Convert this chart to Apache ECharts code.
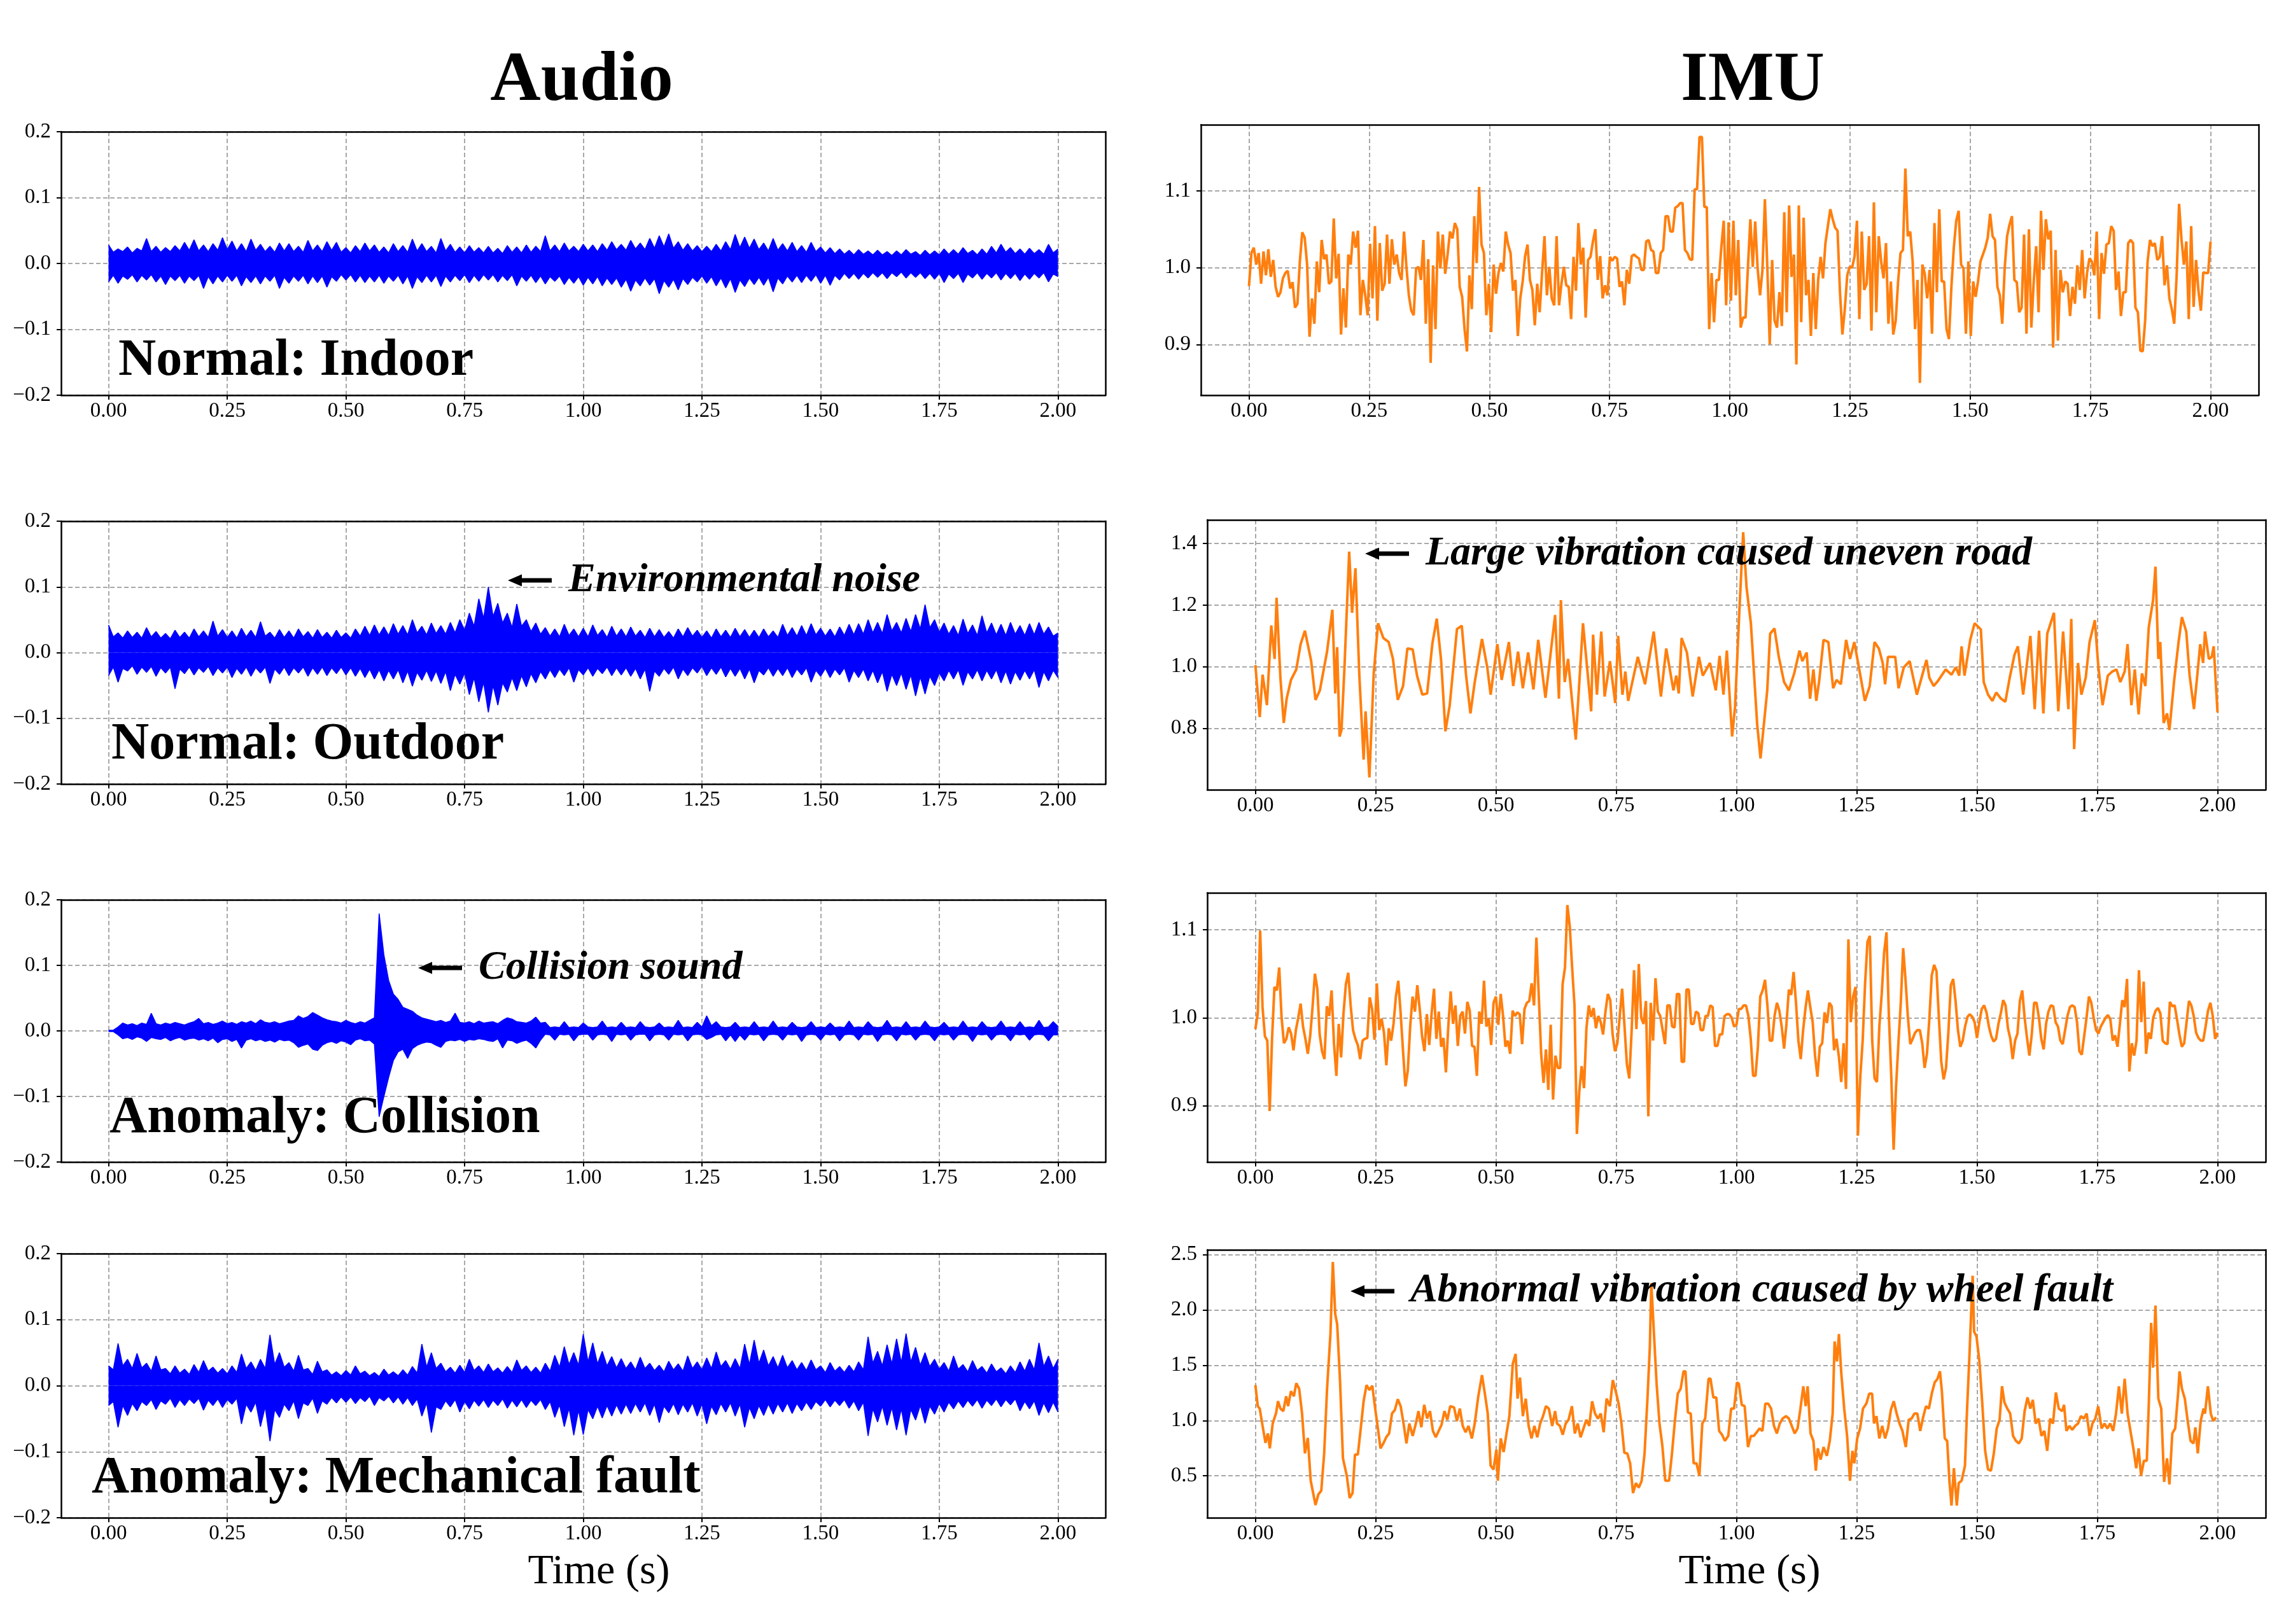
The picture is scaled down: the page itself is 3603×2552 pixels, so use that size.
<!DOCTYPE html>
<html>
<head>
<meta charset="UTF-8">
<title>Audio and IMU signals</title>
<script src="https://cdn.jsdelivr.net/npm/echarts@6/dist/echarts.min.js"></script>
<style>
  html, body { margin: 0; padding: 0; background: #fff; }
  #chart { width: 3603px; height: 2552px; }
</style>
</head>
<body>
<div id="chart"></div>
<script>
// tick values
const timeTicks = [0, 0.25, 0.5, 0.75, 1, 1.25, 1.5, 1.75, 2];
const audioTicks = [-0.2, -0.1, 0, 0.1, 0.2];
const imuTicks = [[0.9, 1.0, 1.1], [0.8, 1.0, 1.2, 1.4], [0.9, 1.0, 1.1], [0.5, 1.0, 1.5, 2.0, 2.5]];

const panelLabels = ['Normal: Indoor', 'Normal: Outdoor', 'Anomaly: Collision', 'Anomaly: Mechanical fault'];

// audio envelopes (upper / lower), evenly spaced over 0..2 s (0.01 s)
const audio1Up = [.028,.017,.022,.018,.025,.016,.023,.019,.038,.018,.026,.017,.024,.018,.027,.019,.032,.020,.036,.019,
  .028,.018,.030,.020,.039,.021,.034,.019,.030,.018,.037,.020,.029,.018,.026,.017,.031,.019,.030,.018,
  .026,.017,.035,.019,.028,.018,.033,.020,.032,.017,.024,.016,.027,.018,.031,.019,.028,.017,.025,.016,
  .030,.018,.027,.017,.037,.019,.030,.018,.026,.016,.038,.019,.029,.017,.025,.016,.027,.017,.024,.016,
  .026,.016,.023,.015,.027,.017,.025,.016,.028,.017,.026,.018,.042,.019,.028,.018,.031,.019,.026,.018,
  .029,.019,.028,.018,.030,.020,.033,.021,.029,.020,.035,.022,.031,.021,.038,.023,.042,.025,.045,.023,
  .033,.020,.030,.019,.027,.018,.026,.018,.029,.019,.033,.021,.044,.024,.040,.023,.037,.021,.031,.019,
  .038,.020,.030,.019,.032,.018,.027,.017,.032,.018,.025,.016,.024,.015,.022,.014,.020,.013,.021,.014,
  .019,.013,.020,.013,.018,.012,.019,.013,.021,.014,.018,.012,.020,.013,.019,.013,.022,.014,.021,.014,
  .024,.015,.020,.013,.022,.014,.026,.016,.029,.017,.024,.015,.022,.014,.023,.015,.021,.014,.029,.016,.022];
const audio1Lo = [-.028,-.018,-.030,-.019,-.024,-.017,-.028,-.018,-.025,-.017,-.028,-.019,-.032,-.019,-.026,-.018,-.030,-.019,-.026,-.018,
  -.038,-.020,-.031,-.019,-.028,-.018,-.027,-.018,-.034,-.020,-.029,-.019,-.031,-.019,-.027,-.018,-.038,-.021,-.030,-.019,
  -.027,-.018,-.031,-.019,-.029,-.019,-.036,-.020,-.027,-.017,-.025,-.017,-.028,-.018,-.029,-.019,-.028,-.018,-.030,-.019,
  -.027,-.018,-.031,-.019,-.038,-.020,-.029,-.018,-.028,-.018,-.035,-.019,-.028,-.018,-.026,-.017,-.029,-.018,-.027,-.017,
  -.025,-.017,-.028,-.018,-.026,-.017,-.034,-.019,-.027,-.018,-.029,-.019,-.031,-.020,-.027,-.019,-.032,-.021,-.030,-.020,
  -.033,-.021,-.031,-.020,-.034,-.022,-.032,-.022,-.036,-.024,-.042,-.025,-.034,-.022,-.033,-.023,-.046,-.026,-.036,-.024,
  -.040,-.023,-.032,-.021,-.028,-.019,-.030,-.020,-.034,-.022,-.037,-.023,-.044,-.025,-.035,-.022,-.032,-.021,-.033,-.021,
  -.043,-.022,-.031,-.019,-.028,-.018,-.029,-.018,-.027,-.017,-.030,-.018,-.033,-.018,-.025,-.015,-.023,-.015,-.024,-.015,
  -.022,-.014,-.021,-.014,-.023,-.014,-.020,-.013,-.022,-.014,-.021,-.014,-.023,-.015,-.024,-.015,-.029,-.016,-.023,-.015,
  -.029,-.016,-.022,-.014,-.024,-.015,-.022,-.014,-.025,-.015,-.023,-.015,-.026,-.016,-.024,-.015,-.022,-.014,-.028,-.016,-.020];

const audio2Up = [.042,.024,.030,.022,.033,.023,.031,.022,.038,.024,.032,.022,.029,.021,.034,.023,.031,.022,.036,.024,
  .033,.023,.048,.025,.035,.023,.033,.022,.037,.024,.034,.023,.047,.025,.031,.022,.035,.023,.033,.022,
  .036,.024,.032,.022,.035,.023,.031,.022,.034,.023,.030,.022,.036,.025,.040,.026,.042,.027,.039,.026,
  .044,.028,.041,.027,.050,.030,.040,.027,.045,.029,.041,.028,.046,.030,.050,.034,.060,.040,.082,.052,
  .100,.055,.075,.045,.060,.038,.074,.040,.050,.032,.045,.028,.038,.025,.036,.024,.043,.026,.036,.024,
  .037,.024,.042,.026,.035,.023,.040,.025,.036,.024,.039,.025,.034,.023,.037,.024,.035,.023,.032,.022,
  .036,.024,.038,.025,.034,.023,.033,.022,.036,.024,.034,.023,.037,.024,.035,.023,.034,.023,.036,.024,
  .033,.023,.043,.026,.038,.025,.041,.026,.044,.027,.037,.025,.036,.024,.039,.026,.043,.027,.044,.028,
  .050,.030,.046,.029,.058,.033,.046,.030,.052,.032,.058,.036,.073,.038,.050,.031,.045,.028,.041,.026,
  .051,.029,.042,.026,.056,.030,.045,.027,.043,.026,.046,.028,.041,.026,.044,.027,.046,.028,.039,.025,.030];
const audio2Lo = [-.035,-.022,-.045,-.024,-.028,-.020,-.033,-.022,-.030,-.021,-.036,-.023,-.031,-.022,-.055,-.025,-.032,-.022,-.034,-.023,
  -.030,-.021,-.035,-.023,-.031,-.022,-.038,-.024,-.033,-.022,-.036,-.023,-.031,-.022,-.047,-.025,-.033,-.022,-.035,-.023,
  -.031,-.022,-.036,-.023,-.033,-.022,-.035,-.023,-.032,-.022,-.034,-.023,-.036,-.024,-.038,-.025,-.040,-.026,-.043,-.027,
  -.040,-.026,-.046,-.028,-.051,-.030,-.042,-.027,-.044,-.028,-.047,-.029,-.058,-.033,-.048,-.031,-.064,-.038,-.075,-.045,
  -.091,-.050,-.080,-.046,-.060,-.038,-.058,-.035,-.052,-.032,-.046,-.029,-.040,-.026,-.038,-.025,-.035,-.023,-.045,-.026,
  -.034,-.023,-.036,-.024,-.032,-.022,-.035,-.023,-.034,-.023,-.036,-.024,-.040,-.025,-.059,-.028,-.036,-.024,-.033,-.022,
  -.040,-.025,-.035,-.023,-.031,-.021,-.035,-.023,-.033,-.022,-.037,-.024,-.036,-.024,-.040,-.025,-.046,-.027,-.034,-.023,
  -.036,-.024,-.035,-.023,-.038,-.025,-.034,-.023,-.045,-.027,-.036,-.024,-.038,-.025,-.034,-.023,-.045,-.027,-.038,-.025,
  -.043,-.027,-.046,-.029,-.059,-.033,-.050,-.031,-.056,-.034,-.066,-.037,-.063,-.036,-.050,-.031,-.043,-.027,-.040,-.026,
  -.050,-.029,-.040,-.026,-.043,-.027,-.040,-.026,-.046,-.028,-.048,-.029,-.042,-.027,-.040,-.026,-.053,-.029,-.043,-.027,-.038];

const audio3Up = [.001,.001,.006,.012,.009,.011,.008,.012,.010,.027,.011,.009,.012,.010,.013,.011,.009,.012,.014,.019,
  .011,.013,.010,.012,.015,.011,.013,.010,.014,.012,.015,.011,.017,.013,.012,.014,.011,.013,.015,.016,
  .023,.019,.022,.028,.024,.020,.017,.015,.014,.012,.016,.013,.011,.014,.012,.016,.020,.179,.116,.077,
  .056,.048,.036,.033,.030,.024,.020,.018,.016,.014,.016,.013,.015,.027,.013,.012,.014,.011,.015,.012,
  .013,.014,.011,.016,.020,.018,.014,.013,.012,.015,.021,.012,.013,.005,.006,.005,.014,.005,.006,.005,
  .012,.006,.005,.006,.015,.005,.006,.005,.013,.005,.006,.005,.014,.006,.005,.006,.012,.005,.006,.005,
  .016,.005,.006,.005,.013,.006,.023,.008,.014,.006,.005,.006,.013,.005,.006,.005,.014,.005,.006,.005,
  .015,.005,.006,.005,.013,.006,.005,.006,.014,.005,.006,.005,.012,.005,.006,.005,.015,.005,.006,.005,
  .014,.006,.005,.006,.016,.005,.006,.005,.014,.005,.006,.005,.015,.006,.005,.006,.013,.005,.006,.005,
  .015,.005,.006,.005,.014,.006,.005,.006,.015,.005,.006,.005,.014,.005,.006,.005,.016,.005,.006,.014,.007];
const audio3Lo = [-.001,-.001,-.006,-.012,-.010,-.013,-.009,-.011,-.016,-.010,-.012,-.013,-.010,-.015,-.012,-.010,-.014,-.012,-.011,-.014,
  -.012,-.015,-.011,-.018,-.013,-.012,-.016,-.013,-.026,-.014,-.012,-.015,-.013,-.016,-.014,-.017,-.013,-.015,-.014,-.018,
  -.025,-.022,-.020,-.028,-.030,-.022,-.018,-.016,-.019,-.015,-.017,-.021,-.014,-.012,-.015,-.014,-.020,-.131,-.100,-.071,
  -.045,-.032,-.028,-.042,-.027,-.022,-.019,-.017,-.018,-.022,-.025,-.016,-.014,-.015,-.013,-.016,-.013,-.014,-.012,-.013,
  -.015,-.016,-.012,-.026,-.014,-.015,-.019,-.016,-.014,-.019,-.026,-.014,-.005,-.006,-.014,-.005,-.006,-.005,-.015,-.006,
  -.005,-.005,-.014,-.006,-.005,-.006,-.016,-.005,-.006,-.005,-.014,-.006,-.005,-.005,-.015,-.006,-.005,-.006,-.014,-.005,
  -.006,-.005,-.015,-.006,-.005,-.006,-.013,-.010,-.006,-.005,-.015,-.006,-.016,-.006,-.014,-.005,-.006,-.005,-.015,-.006,
  -.005,-.006,-.014,-.005,-.006,-.005,-.016,-.006,-.005,-.006,-.014,-.005,-.006,-.005,-.015,-.006,-.005,-.006,-.014,-.005,
  -.006,-.005,-.016,-.006,-.005,-.006,-.015,-.005,-.006,-.005,-.014,-.006,-.005,-.006,-.015,-.005,-.006,-.005,-.014,-.006,
  -.005,-.006,-.016,-.005,-.006,-.005,-.014,-.006,-.005,-.006,-.015,-.005,-.006,-.005,-.014,-.006,-.005,-.006,-.015,-.006,-.006];

const audio4Up = [.030,.024,.064,.030,.040,.026,.049,.027,.034,.022,.045,.024,.026,.018,.030,.019,.025,.017,.032,.020,
  .038,.022,.028,.019,.026,.018,.030,.020,.048,.026,.036,.023,.040,.026,.077,.032,.050,.028,.035,.022,
  .046,.024,.026,.017,.037,.021,.024,.016,.021,.015,.023,.016,.030,.018,.022,.015,.020,.014,.025,.016,
  .021,.015,.024,.016,.029,.019,.063,.028,.050,.026,.034,.021,.028,.019,.031,.020,.040,.023,.030,.020,
  .033,.021,.027,.019,.029,.020,.039,.023,.030,.020,.028,.019,.034,.022,.046,.028,.059,.032,.050,.031,
  .078,.036,.065,.033,.052,.030,.044,.027,.041,.026,.036,.024,.043,.026,.034,.023,.031,.021,.037,.024,
  .033,.022,.045,.026,.036,.024,.042,.026,.051,.029,.038,.025,.041,.026,.063,.032,.069,.034,.054,.030,
  .044,.027,.046,.027,.038,.024,.035,.023,.039,.024,.030,.020,.035,.022,.029,.020,.031,.021,.036,.024,
  .074,.034,.052,.030,.062,.033,.071,.035,.079,.036,.058,.031,.050,.029,.040,.025,.035,.022,.045,.025,
  .032,.021,.038,.023,.029,.019,.033,.021,.027,.018,.030,.020,.036,.022,.040,.024,.065,.029,.045,.026,.040];
const audio4Lo = [-.030,-.024,-.063,-.030,-.045,-.027,-.038,-.024,-.030,-.021,-.036,-.023,-.028,-.019,-.033,-.021,-.030,-.020,-.027,-.019,
  -.037,-.022,-.030,-.020,-.033,-.021,-.028,-.019,-.058,-.028,-.040,-.025,-.062,-.032,-.084,-.036,-.048,-.028,-.038,-.023,
  -.050,-.026,-.030,-.019,-.042,-.023,-.028,-.018,-.026,-.017,-.025,-.017,-.027,-.018,-.024,-.016,-.030,-.018,-.023,-.016,
  -.026,-.017,-.028,-.018,-.030,-.020,-.046,-.026,-.071,-.032,-.036,-.023,-.032,-.021,-.040,-.024,-.035,-.022,-.031,-.021,
  -.033,-.022,-.030,-.020,-.034,-.022,-.032,-.021,-.033,-.022,-.030,-.021,-.036,-.024,-.048,-.029,-.062,-.034,-.075,-.037,
  -.074,-.036,-.050,-.031,-.049,-.030,-.046,-.029,-.043,-.028,-.042,-.027,-.040,-.026,-.045,-.028,-.056,-.031,-.041,-.027,
  -.044,-.028,-.040,-.026,-.046,-.028,-.058,-.031,-.044,-.027,-.040,-.026,-.046,-.028,-.063,-.033,-.050,-.030,-.045,-.028,
  -.043,-.027,-.040,-.026,-.042,-.027,-.038,-.025,-.036,-.024,-.031,-.021,-.032,-.022,-.030,-.021,-.034,-.023,-.038,-.025,
  -.076,-.035,-.055,-.031,-.060,-.033,-.067,-.035,-.075,-.036,-.052,-.030,-.057,-.031,-.043,-.027,-.040,-.025,-.035,-.023,
  -.033,-.022,-.031,-.021,-.034,-.022,-.030,-.020,-.032,-.021,-.029,-.020,-.038,-.024,-.035,-.023,-.045,-.026,-.041,-.025,-.040];

// IMU acceleration
const imu1 = [0.976,1.019,1.026,1.004,1.019,0.979,1.021,0.990,1.024,0.988,1.010,0.975,0.962,0.968,0.986,0.993,0.996,0.973,0.981,0.948,
  0.953,1.008,1.046,1.039,1.004,0.910,0.960,0.927,1.008,0.968,1.036,1.011,1.017,0.979,0.982,1.064,0.986,1.018,0.913,0.973,
  0.922,1.017,1.004,1.047,1.026,1.048,0.938,0.984,0.964,0.938,1.031,0.960,1.054,0.931,1.032,0.970,0.979,1.043,0.979,1.037,
  1.004,1.017,0.993,0.984,1.047,1.001,0.964,0.944,0.938,0.999,1.001,0.984,1.036,0.927,1.011,0.876,1.003,0.920,1.047,0.999,
  1.043,0.992,1.017,1.047,1.038,1.058,1.050,0.975,0.962,0.920,0.891,0.990,0.946,1.067,1.006,1.105,1.030,1.019,0.938,0.979,
  0.916,1.004,0.966,0.993,1.006,0.995,1.047,1.030,1.019,0.970,0.984,0.911,0.960,0.982,1.015,1.030,0.984,0.971,0.925,0.979,
  0.942,0.993,1.041,0.964,1.001,0.960,0.951,1.041,0.951,0.979,1.001,0.977,0.975,0.933,1.014,0.970,1.058,1.004,1.026,0.935,
  1.010,1.014,1.034,1.050,0.984,1.015,0.960,0.977,0.964,1.014,1.009,1.014,1.012,0.975,0.982,0.951,0.997,0.979,1.015,1.017,
  1.014,1.012,0.997,0.997,1.034,1.036,1.023,1.021,0.993,0.993,1.019,1.023,1.067,1.067,1.047,1.047,1.078,1.080,1.084,1.084,
  1.023,1.019,1.011,1.010,1.102,1.102,1.170,1.170,1.079,1.079,0.920,0.993,0.929,0.984,0.984,1.026,1.061,0.951,1.059,0.957,
  1.061,0.964,1.036,0.922,0.935,0.935,1.001,1.063,1.001,1.060,0.999,0.964,0.997,1.089,1.001,0.900,1.010,0.931,0.922,0.968,
  0.924,1.072,0.942,1.081,0.988,1.017,0.874,1.081,0.929,1.065,0.964,0.984,0.911,0.993,0.920,0.984,1.014,0.986,1.032,1.054,
  1.076,1.063,1.052,1.048,0.968,0.913,0.946,0.990,1.001,1.000,1.014,1.061,0.933,1.047,0.971,0.979,1.041,0.918,1.085,0.942,
  1.041,1.008,0.986,1.032,0.927,0.982,0.913,0.931,0.982,1.019,1.023,1.129,1.041,1.047,1.008,0.920,0.984,0.850,1.004,0.992,
  0.960,0.997,0.914,1.058,0.968,1.076,0.982,0.982,0.920,0.907,0.975,1.026,1.061,1.074,1.004,0.999,0.914,1.008,0.911,0.982,
  0.962,0.982,1.008,1.017,1.026,1.039,1.070,1.041,1.036,0.975,0.964,0.927,0.999,1.041,1.056,1.067,0.984,0.981,0.942,0.948,
  1.043,0.914,1.050,0.922,0.982,1.028,0.942,1.074,0.997,1.063,1.037,1.048,0.896,1.023,0.905,0.997,0.968,0.982,0.979,0.937,
  0.975,0.953,1.003,0.971,1.023,0.960,0.993,1.012,1.008,0.990,1.047,0.933,1.019,0.992,1.030,1.032,1.054,1.048,0.971,0.995,
  0.937,0.968,0.968,1.032,1.036,1.032,0.948,0.942,0.892,0.891,0.931,1.008,1.036,1.028,1.032,1.010,1.014,1.041,0.977,1.003,
  0.960,0.946,0.927,0.990,1.083,1.037,1.004,1.034,0.933,1.054,0.949,1.010,0.970,0.944,0.994,0.993,0.993,1.034];

const imu2T = [0.000,0.009,0.015,0.024,0.033,0.040,0.044,0.052,0.059,0.065,0.074,0.085,0.094,0.103,0.116,0.125,0.134,0.149,0.160,0.166,
  0.170,0.175,0.179,0.185,0.195,0.201,0.208,0.216,0.225,0.229,0.237,0.246,0.255,0.266,0.277,0.286,0.296,0.307,0.316,0.327,
  0.336,0.347,0.357,0.368,0.377,0.386,0.395,0.404,0.419,0.429,0.438,0.447,0.456,0.471,0.482,0.489,0.503,0.512,0.527,0.536,
  0.546,0.556,0.567,0.578,0.588,0.603,0.623,0.631,0.635,0.643,0.650,0.666,0.681,0.698,0.702,0.710,0.719,0.726,0.737,0.748,
  0.754,0.763,0.769,0.775,0.795,0.810,0.828,0.843,0.854,0.869,0.875,0.880,0.886,0.897,0.909,0.922,0.930,0.945,0.957,0.965,
  0.973,0.980,0.991,0.997,1.006,1.014,1.021,1.030,1.043,1.050,1.064,1.070,1.079,1.088,1.099,1.109,1.120,1.131,1.137,1.146,
  1.153,1.160,1.166,1.172,1.181,1.191,1.201,1.208,1.217,1.228,1.236,1.245,1.267,1.277,1.287,1.296,1.304,1.309,1.315,1.330,
  1.337,1.348,1.360,1.375,1.386,1.395,1.401,1.410,1.419,1.435,1.447,1.456,1.463,1.468,1.474,1.486,1.495,1.508,1.514,1.523,
  1.532,1.540,1.550,1.559,1.568,1.578,1.585,1.596,1.611,1.620,1.629,1.638,1.646,1.660,1.669,1.679,1.690,1.696,1.702,1.710,
  1.717,1.726,1.734,1.745,1.752,1.761,1.772,1.781,1.790,1.798,1.807,1.813,1.821,1.828,1.836,1.843,1.850,1.857,1.866,1.871,
  1.877,1.881,1.888,1.895,1.900,1.910,1.919,1.926,1.935,1.942,1.951,1.957,1.964,1.970,1.974,1.982,1.988,1.992,2.000];
const imu2V = [1.005,0.836,0.974,0.875,1.134,1.025,1.224,0.964,0.817,0.896,0.957,0.991,1.073,1.117,1.018,0.892,0.923,1.049,1.185,0.913,
  1.063,0.773,0.794,0.991,1.374,1.175,1.320,0.974,0.698,0.855,0.640,0.978,1.141,1.093,1.080,1.025,0.892,0.937,1.059,1.056,
  0.971,0.909,0.913,1.076,1.156,1.022,0.790,0.875,1.122,1.133,0.971,0.848,0.950,1.090,0.998,0.909,1.073,0.957,1.080,0.937,
  1.049,0.930,1.046,0.926,1.087,0.899,1.168,0.896,1.216,0.950,1.025,0.763,1.141,0.855,1.104,0.909,1.114,0.903,1.018,0.882,
  1.100,0.909,0.984,0.889,1.032,0.943,1.114,0.903,1.059,0.923,0.971,0.913,1.093,1.046,0.903,1.032,0.971,1.012,0.923,1.035,
  0.909,1.052,0.773,0.868,1.179,1.437,1.257,1.141,0.814,0.702,0.923,1.107,1.124,1.032,0.950,0.923,0.978,1.052,1.018,1.046,
  0.896,0.991,0.889,0.954,1.087,1.080,0.930,0.957,0.943,1.087,1.025,1.080,0.889,0.937,1.080,1.059,1.012,0.943,1.032,1.032,
  0.930,0.998,1.018,0.909,0.971,1.022,0.964,0.937,0.954,0.991,0.974,0.998,0.971,1.066,0.971,1.087,1.141,1.121,0.950,0.909,
  0.889,0.916,0.896,0.886,0.964,1.039,1.066,0.909,1.100,0.862,1.117,0.848,1.107,1.175,0.855,1.114,0.862,1.155,0.732,1.012,
  0.909,0.964,1.080,1.151,1.005,0.875,0.971,0.984,0.991,0.950,0.984,1.073,0.875,0.991,0.845,0.978,0.937,1.127,1.216,1.325,
  1.025,1.080,0.817,0.848,0.794,0.957,1.080,1.161,1.114,0.971,0.862,0.957,1.073,1.012,1.114,1.025,1.032,1.066,0.851];

const imu3 = [0.987,1.005,1.099,1.012,0.979,0.974,0.894,0.976,1.035,1.031,1.057,1.000,0.971,0.976,0.989,0.982,0.963,0.986,1.000,1.016,
  0.990,0.976,0.959,0.979,1.012,1.050,1.033,0.981,0.962,0.953,1.013,1.002,1.031,0.971,0.934,0.993,0.955,1.005,1.038,1.051,
  1.014,0.986,0.976,0.969,0.953,0.974,0.976,0.977,1.023,1.010,0.975,1.039,0.986,0.999,0.983,0.946,0.988,0.974,0.993,1.024,
  1.042,1.005,0.962,0.922,0.940,0.990,1.024,1.007,1.037,1.010,0.979,0.962,1.004,0.969,1.005,1.033,0.976,1.007,0.967,0.977,
  0.938,0.990,1.030,0.993,1.014,0.968,1.002,1.007,0.982,1.018,1.008,0.968,0.967,0.934,1.007,0.993,1.042,0.990,0.999,0.969,
  1.017,1.024,0.992,1.027,1.002,0.967,0.974,0.959,1.008,1.002,1.006,1.004,0.970,1.010,1.017,1.019,1.039,1.014,1.091,1.024,
  0.959,0.926,0.964,0.918,0.992,0.907,0.957,0.943,0.943,1.038,1.057,1.128,1.104,1.057,1.014,0.868,0.916,0.945,0.920,0.988,
  1.014,1.001,1.011,0.988,1.002,0.995,0.981,1.007,1.027,1.020,0.981,0.962,0.971,1.002,1.033,0.990,0.947,0.931,0.986,1.054,
  0.987,1.061,1.000,0.993,1.019,0.888,1.017,0.974,1.045,1.007,1.002,0.986,0.970,1.014,1.014,0.990,0.989,1.027,1.027,0.950,
  0.950,1.032,1.032,0.993,0.993,1.007,1.005,0.986,0.986,1.002,1.002,1.014,1.012,0.968,0.968,0.981,0.981,1.002,1.004,1.004,
  1.000,0.990,0.992,1.010,1.010,1.014,1.014,1.002,0.976,0.934,0.934,0.967,1.024,1.031,1.043,1.014,0.974,0.974,1.002,1.017,
  1.008,0.990,0.965,0.993,1.032,1.026,1.052,1.017,0.974,0.953,0.986,1.011,1.031,1.012,0.995,0.957,0.933,0.967,0.971,1.006,
  0.994,1.017,1.013,0.963,0.976,0.956,0.927,0.971,0.919,1.089,0.995,1.024,1.035,0.866,0.933,0.974,1.038,1.086,1.093,0.974,
  0.931,0.927,0.990,1.027,1.074,1.097,1.002,0.934,0.850,0.921,0.971,1.017,1.079,1.043,1.000,0.970,0.976,0.983,0.986,0.986,
  0.971,0.943,0.959,0.999,1.048,1.060,1.053,1.000,0.950,0.930,0.943,0.984,1.037,1.044,1.019,0.986,0.967,0.974,0.990,1.001,
  1.004,1.001,0.995,0.977,0.995,1.010,1.014,1.006,0.990,0.979,0.973,0.976,0.993,1.005,1.020,1.014,0.988,0.976,0.953,0.974,
  0.982,1.019,1.031,1.000,0.977,0.957,0.981,1.017,1.017,1.000,0.976,0.964,0.993,1.007,1.014,1.013,0.995,0.990,0.974,0.970,
  0.986,1.002,1.012,1.014,1.012,0.995,0.962,0.958,0.979,1.000,1.024,1.017,1.000,0.986,0.982,0.990,0.995,1.000,1.003,0.998,
  0.974,0.980,0.967,0.993,1.020,1.012,1.044,0.939,0.971,0.957,0.974,1.054,0.995,1.041,0.959,0.983,0.976,1.000,1.008,1.011,
  1.005,0.974,0.971,0.970,1.018,1.013,1.014,0.998,0.981,0.967,0.971,0.995,1.019,1.014,1.002,0.983,0.977,0.974,0.974,0.990,
  1.008,1.017,1.002,0.976,0.983];

const imu4T = [0.000,0.005,0.009,0.015,0.021,0.026,0.030,0.036,0.043,0.047,0.052,0.058,0.064,0.068,0.074,0.080,0.085,0.091,0.097,0.103,
  0.109,0.115,0.125,0.131,0.137,0.143,0.149,0.156,0.161,0.166,0.170,0.176,0.182,0.190,0.196,0.202,0.207,0.213,0.219,0.225,
  0.231,0.237,0.243,0.249,0.254,0.260,0.266,0.272,0.278,0.284,0.290,0.296,0.302,0.308,0.314,0.320,0.327,0.333,0.339,0.345,
  0.351,0.357,0.363,0.369,0.375,0.381,0.387,0.393,0.399,0.405,0.413,0.419,0.425,0.431,0.437,0.443,0.450,0.456,0.463,0.471,
  0.477,0.483,0.489,0.495,0.501,0.504,0.510,0.516,0.522,0.528,0.535,0.541,0.545,0.550,0.556,0.562,0.568,0.574,0.580,0.586,
  0.592,0.598,0.604,0.610,0.617,0.623,0.627,0.633,0.639,0.645,0.651,0.658,0.664,0.670,0.676,0.682,0.688,0.694,0.700,0.706,
  0.712,0.718,0.724,0.730,0.737,0.743,0.749,0.755,0.761,0.767,0.773,0.779,0.785,0.791,0.797,0.803,0.809,0.815,0.820,0.823,
  0.828,0.834,0.840,0.846,0.852,0.860,0.866,0.872,0.878,0.884,0.890,0.894,0.899,0.905,0.911,0.917,0.923,0.929,0.935,0.942,
  0.946,0.952,0.958,0.964,0.970,0.976,0.983,0.989,0.995,1.001,1.005,1.011,1.017,1.024,1.030,1.036,1.042,1.048,1.054,1.060,
  1.066,1.072,1.078,1.084,1.090,1.096,1.103,1.109,1.115,1.121,1.127,1.133,1.139,1.144,1.148,1.154,1.160,1.165,1.169,1.175,
  1.181,1.188,1.194,1.200,1.204,1.209,1.213,1.218,1.224,1.230,1.236,1.241,1.245,1.251,1.257,1.263,1.270,1.276,1.282,1.286,
  1.291,1.297,1.303,1.309,1.315,1.321,1.327,1.333,1.339,1.345,1.352,1.358,1.364,1.370,1.376,1.382,1.388,1.394,1.400,1.406,
  1.412,1.418,1.423,1.427,1.433,1.438,1.443,1.447,1.452,1.458,1.462,1.468,1.475,1.479,1.484,1.488,1.491,1.494,1.499,1.505,
  1.511,1.517,1.523,1.529,1.535,1.541,1.547,1.552,1.557,1.563,1.569,1.575,1.581,1.587,1.593,1.599,1.605,1.611,1.616,1.622,
  1.628,1.634,1.640,1.646,1.652,1.658,1.664,1.670,1.677,1.681,1.686,1.692,1.698,1.704,1.710,1.716,1.722,1.728,1.734,1.740,
  1.746,1.752,1.759,1.765,1.771,1.777,1.783,1.789,1.795,1.801,1.807,1.813,1.819,1.825,1.831,1.836,1.841,1.847,1.853,1.857,
  1.862,1.866,1.871,1.877,1.883,1.889,1.895,1.900,1.906,1.912,1.918,1.921,1.926,1.932,1.938,1.944,1.950,1.954,1.959,1.965,
  1.971,1.974,1.980,1.986,1.991,1.997];
const imu4V = [1.321,1.130,1.108,0.951,0.798,0.883,0.748,0.973,1.067,1.175,1.108,1.085,1.220,1.130,1.265,1.220,1.337,1.288,1.063,0.703,
  0.843,0.456,0.236,0.333,0.366,0.703,1.288,1.782,2.434,1.962,1.872,1.355,0.658,0.501,0.299,0.344,0.692,0.692,0.928,1.175,
  1.321,1.276,1.315,1.108,0.951,0.748,0.793,0.849,0.883,1.063,1.097,1.193,1.130,0.973,0.793,0.973,0.861,0.962,1.085,0.939,
  1.142,1.018,1.085,0.906,0.849,0.906,0.962,1.085,1.007,1.130,1.119,0.996,1.108,0.951,0.894,0.951,0.838,0.973,1.209,1.411,
  1.243,1.063,0.591,0.557,0.737,0.456,0.838,0.715,0.883,1.040,1.512,1.602,1.198,1.389,1.040,1.198,0.951,0.838,0.951,0.849,
  0.973,1.040,1.130,1.108,0.951,1.085,0.973,0.951,0.872,0.973,1.007,1.130,0.883,0.973,0.849,0.928,1.007,0.951,1.175,1.063,
  1.018,1.063,0.894,1.198,1.130,1.366,1.265,1.153,0.973,0.708,0.703,0.613,0.344,0.434,0.393,0.456,0.703,1.198,1.670,2.243,
  1.827,1.333,0.973,0.771,0.456,0.456,0.703,0.996,1.243,1.288,1.445,1.445,1.074,1.063,0.613,0.613,0.501,0.973,1.018,1.378,
  1.378,1.209,1.209,0.906,0.872,0.816,0.861,1.108,1.108,1.344,1.333,1.142,1.130,0.760,0.861,0.861,0.894,0.928,0.906,1.153,
  1.153,1.108,0.951,0.883,0.973,1.018,1.040,1.018,0.951,0.883,0.928,1.108,1.310,1.130,1.310,0.883,0.816,0.546,0.748,0.647,
  0.760,0.681,0.816,1.063,1.715,1.535,1.782,1.422,1.108,0.861,0.456,0.726,0.613,0.838,0.928,1.108,1.153,1.243,1.243,0.973,
  1.040,0.838,0.951,0.838,0.928,1.097,1.175,1.063,0.973,0.906,0.760,1.007,1.018,1.063,1.063,0.906,1.029,1.130,1.108,1.243,
  1.344,1.378,1.445,1.265,0.838,0.816,0.434,0.231,0.569,0.231,0.434,0.456,0.591,1.063,1.557,1.984,2.310,1.804,1.760,1.535,
  1.153,0.726,0.557,0.546,0.703,0.928,1.007,1.310,1.164,1.108,1.063,0.861,0.816,0.793,0.838,1.085,1.209,1.108,1.187,0.973,
  1.018,0.861,0.906,0.726,1.018,0.973,1.254,1.108,1.085,1.142,0.906,0.951,0.917,0.951,0.973,1.040,1.018,1.063,0.861,0.973,
  1.018,1.130,0.928,0.973,0.928,0.973,0.906,1.063,1.310,1.063,1.378,1.063,0.906,0.748,0.569,0.748,0.501,0.636,0.636,1.130,
  1.883,1.479,2.040,1.198,1.108,0.445,0.658,0.422,0.883,0.928,1.243,1.445,1.288,1.198,0.996,0.816,0.793,0.939,0.703,0.996,
  1.108,1.063,1.310,1.063,0.996,1.029];

// ---------------------------------------------------------------
const SERIF = '"Liberation Serif", "Times New Roman", serif';
const BLUE = '#0000ff';
const ORANGE = '#ff7f0e';

// panel rectangles (px)
const audioRects = [
  { left: 96, top: 207, width: 1641, height: 414 },
  { left: 96, top: 819, width: 1641, height: 413 },
  { left: 96, top: 1414, width: 1641, height: 412 },
  { left: 96, top: 1970, width: 1641, height: 415 }
];
const imuRects = [
  { left: 1887, top: 196, width: 1662, height: 425 },
  { left: 1897, top: 817, width: 1663, height: 424 },
  { left: 1897, top: 1403, width: 1663, height: 423 },
  { left: 1897, top: 1964, width: 1663, height: 421 }
];

function evenTimes(n) {
  const t = [];
  for (let i = 0; i < n; i++) t.push(i * 2 / (n - 1));
  return t;
}
function pairs(t, v) {
  return v.map((y, i) => [t[i], y]);
}
function paddedRange(v) {
  const lo = Math.min(...v), hi = Math.max(...v);
  const m = (hi - lo) * 0.05;
  return [lo - m, hi + m];
}
function fmt1(v) {
  const s = Math.abs(v).toFixed(1);
  return v < -1e-9 ? '\u2212' + s : s;
}

const gridLine = { show: true, lineStyle: { color: '#a8a8a8', type: [7, 4], width: 2 } };
const frame = { show: true, onZero: false, lineStyle: { color: '#000', width: 2.5 } };
const hidden = { show: false };

function xAxisFor(k) {
  return {
    gridIndex: k, type: 'value', min: -0.1, max: 2.1,
    axisLine: frame,
    axisTick: { show: true, length: 7, customValues: timeTicks, lineStyle: { color: '#000', width: 2 } },
    axisLabel: { customValues: timeTicks, formatter: v => v.toFixed(2), fontFamily: SERIF, fontSize: 33, color: '#000', margin: 9 },
    splitLine: gridLine
  };
}
function yAxisFor(k, range, ticks) {
  return {
    gridIndex: k, type: 'value', min: range[0], max: range[1],
    axisLine: frame,
    axisTick: { show: true, length: 7, customValues: ticks, lineStyle: { color: '#000', width: 2 } },
    axisLabel: { customValues: ticks, formatter: fmt1, fontFamily: SERIF, fontSize: 33, color: '#000', margin: 16 },
    splitLine: gridLine
  };
}
// top and right spines drawn above the grid lines
function topSpine(k) {
  return { gridIndex: k, type: 'value', position: 'top', min: -0.1, max: 2.1, z: 5,
    axisLine: frame, axisTick: hidden, axisLabel: hidden, splitLine: hidden };
}
function rightSpine(k, range) {
  return { gridIndex: k, type: 'value', position: 'right', min: range[0], max: range[1], z: 5,
    axisLine: frame, axisTick: hidden, axisLabel: hidden, splitLine: hidden };
}

const grids = [], xAxes = [], yAxes = [], spinesX = [], spinesY = [], series = [];
const audioUp = [audio1Up, audio2Up, audio3Up, audio4Up];
const audioLo = [audio1Lo, audio2Lo, audio3Lo, audio4Lo];

audioRects.forEach((r, k) => {
  grids.push(Object.assign({ show: false, containLabel: false }, r));
  xAxes.push(xAxisFor(k));
  yAxes.push(yAxisFor(k, [-0.2, 0.2], audioTicks));
  spinesX.push(topSpine(k));
  spinesY.push(rightSpine(k, [-0.2, 0.2]));
  [audioUp[k], audioLo[k]].forEach(vals => {
    series.push({
      type: 'line', xAxisIndex: k, yAxisIndex: k, showSymbol: false, symbol: 'none',
      data: pairs(evenTimes(vals.length), vals),
      lineStyle: { color: BLUE, width: 1.5 },
      areaStyle: { color: BLUE, opacity: 1 },
      z: 3
    });
  });
});

const imuT = [evenTimes(imu1.length), imu2T, evenTimes(imu3.length), imu4T];
const imuV = [imu1, imu2V, imu3, imu4V];
imuRects.forEach((r, j) => {
  const k = j + 4;
  const range = paddedRange(imuV[j]);
  grids.push(Object.assign({ show: false, containLabel: false }, r));
  xAxes.push(xAxisFor(k));
  yAxes.push(yAxisFor(k, range, imuTicks[j]));
  spinesX.push(topSpine(k));
  spinesY.push(rightSpine(k, range));
  series.push({
    type: 'line', xAxisIndex: k, yAxisIndex: k, showSymbol: false, symbol: 'none',
    data: pairs(imuT[j], imuV[j]),
    lineStyle: { color: ORANGE, width: 4 },
    z: 3
  });
});

// text + arrows
function text(str, x, y, font, align) {
  return { type: 'text', x: x, y: y, z: 10,
    style: { text: str, font: font, fill: '#000', textAlign: align || 'left', textVerticalAlign: 'middle' } };
}
function arrow(tipX, tipY) {
  return { type: 'polygon', x: tipX, y: tipY, z: 10,
    shape: { points: [[0, 0], [22, -9.5], [22, -3.5], [69, -3.5], [69, 3.5], [22, 3.5], [22, 9.5]] },
    style: { fill: '#000' } };
}
const BIG = 'bold 110px ' + SERIF;
const LABEL = 'bold 82px ' + SERIF;
const NOTE = 'italic bold 64px ' + SERIF;
const AXT = '66px ' + SERIF;

const graphics = [
  text('Audio', 914, 129, BIG, 'center'),
  text('IMU', 2754, 129, BIG, 'center'),
  text(panelLabels[0], 186, 568, LABEL),
  text(panelLabels[1], 175, 1171, LABEL),
  text(panelLabels[2], 172, 1758, LABEL),
  text(panelLabels[3], 144, 2324, LABEL),
  arrow(798, 912), text('Environmental noise', 893, 912, NOTE),
  arrow(2145, 870), text('Large vibration caused uneven road', 2240, 870, NOTE),
  arrow(657, 1521), text('Collision sound', 752, 1521, NOTE),
  arrow(2122, 2029), text('Abnormal vibration caused by wheel fault', 2216, 2028, NOTE),
  text('Time (s)', 941, 2471, AXT, 'center'),
  text('Time (s)', 2749, 2471, AXT, 'center')
];

const chart = echarts.init(document.getElementById('chart'));
chart.setOption({
  animation: false,
  backgroundColor: '#fff',
  grid: grids,
  xAxis: xAxes.concat(spinesX),
  yAxis: yAxes.concat(spinesY),
  series: series,
  graphic: graphics
});
</script>
</body>
</html>
